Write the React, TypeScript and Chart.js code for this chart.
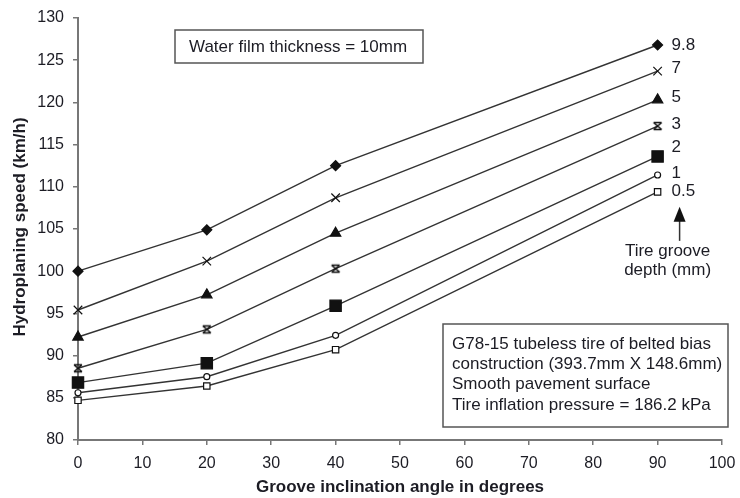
import { useEffect, useRef } from 'react';
import { Chart, registerables } from 'chart.js';

Chart.register(...registerables);

const angles = [0, 20, 40, 90];
const depthLabels = ['9.8', '7', '5', '3', '2', '1', '0.5'];
const speed98 = [100.0, 104.9, 112.5, 126.8];
const speed7 = [95.4, 101.2, 108.7, 123.7];
const speed5 = [92.2, 97.2, 104.5, 120.3];
const speed3 = [88.5, 93.1, 100.3, 117.2];
const speed2 = [86.8, 89.1, 95.9, 113.6];
const speed1 = [85.6, 87.5, 92.4, 111.4];
const speed05 = [84.7, 86.4, 90.7, 109.4];
const xTickValues = [0, 10, 20, 30, 40, 50, 60, 70, 80, 90, 100];
const yTickValues = [80, 85, 90, 95, 100, 105, 110, 115, 120, 125, 130];

const xTitle = 'Groove inclination angle in degrees';
const yTitle = 'Hydroplaning speed (km/h)';
const topNote = 'Water film thickness = 10mm';
const boxNotes = [
  'G78-15 tubeless tire of belted bias',
  'construction (393.7mm X 148.6mm)',
  'Smooth pavement surface',
  'Tire inflation pressure = 186.2 kPa',
];
const arrowNotes = ['Tire groove', 'depth (mm)'];

const FONT = '"Liberation Sans", Arial, sans-serif';
const TEXT = '#1c1c24';

function hourglassMarker(): HTMLCanvasElement {
  const c = document.createElement('canvas');
  c.width = 12;
  c.height = 12;
  const g = c.getContext('2d')!;
  g.strokeStyle = '#111';
  g.lineWidth = 1.6;
  g.beginPath();
  g.moveTo(2, 2.5); g.lineTo(10, 9.5);
  g.moveTo(10, 2.5); g.lineTo(2, 9.5);
  g.moveTo(2, 2.5); g.lineTo(10, 2.5);
  g.moveTo(2, 9.5); g.lineTo(10, 9.5);
  g.stroke();
  return c;
}

export default function App() {
  const ref = useRef<HTMLCanvasElement | null>(null);

  useEffect(() => {
    document.body.style.margin = '0';
    const canvas = ref.current!;
    const series = [speed98, speed7, speed5, speed3, speed2, speed1, speed05];
    const styles: any[] = [
      { pointStyle: 'rectRot', pointRadius: 5, fill: '#111' },
      { pointStyle: 'crossRot', pointRadius: 6, fill: '#111' },
      { pointStyle: 'triangle', pointRadius: 6, fill: '#111' },
      { pointStyle: hourglassMarker(), pointRadius: 6, fill: '#111' },
      { pointStyle: 'rect', pointRadius: 8, fill: '#111' },
      { pointStyle: 'circle', pointRadius: 3, fill: '#fff' },
      { pointStyle: 'rect', pointRadius: 4.5, fill: '#fff' },
    ];
    const labelDy = [0, -3, -3, -2, -9, -2, -1];

    const annotations = {
      id: 'annotations',
      afterDraw(chart: any) {
        const ctx = chart.ctx as CanvasRenderingContext2D;
        const xs = chart.scales.x;
        const ys = chart.scales.y;
        const area = chart.chartArea;
        ctx.save();
        ctx.fillStyle = TEXT;
        // depth labels
        ctx.font = `17px ${FONT}`;
        ctx.textAlign = 'left';
        ctx.textBaseline = 'middle';
        series.forEach((s, i) => {
          const last = s.length - 1;
          const px = xs.getPixelForValue(angles[last]) + 14;
          const py = ys.getPixelForValue(s[last]) + labelDy[i];
          ctx.fillText(depthLabels[i], px, py);
        });
        // arrow
        const ax = xs.getPixelForValue(angles[angles.length - 1]) + 22;
        const tipY = ys.getPixelForValue(speed05[speed05.length - 1]) + 15;
        ctx.strokeStyle = '#333';
        ctx.lineWidth = 1.5;
        ctx.beginPath();
        ctx.moveTo(ax, tipY + 10);
        ctx.lineTo(ax, tipY + 34);
        ctx.stroke();
        ctx.fillStyle = '#111';
        ctx.beginPath();
        ctx.moveTo(ax, tipY);
        ctx.lineTo(ax - 6, tipY + 15);
        ctx.lineTo(ax + 6, tipY + 15);
        ctx.closePath();
        ctx.fill();
        ctx.fillStyle = TEXT;
        ctx.font = `17px ${FONT}`;
        ctx.textAlign = 'center';
        ctx.fillText(arrowNotes[0], ax - 12, tipY + 44);
        ctx.fillText(arrowNotes[1], ax - 12, tipY + 63);

        // top note box
        ctx.strokeStyle = '#555';
        ctx.lineWidth = 1.5;
        const b1x = area.left + 97, b1y = area.top + 12;
        ctx.strokeRect(b1x, b1y, 248, 33);
        ctx.textAlign = 'left';
        ctx.fillText(topNote, b1x + 14, b1y + 17);

        // bottom-right note box
        const b2x = area.left + 365, b2y = area.top + 306;
        ctx.strokeRect(b2x, b2y, 285, 103);
        boxNotes.forEach((t, i) => {
          ctx.fillText(t, b2x + 9, b2y + 20 + i * 20.4);
        });

        // axis titles
        ctx.font = `bold 17px ${FONT}`;
        ctx.textAlign = 'center';
        ctx.fillText(xTitle, (area.left + area.right) / 2, 487);
        ctx.translate(20, (area.top + area.bottom) / 2 - 2);
        ctx.rotate(-Math.PI / 2);
        ctx.fillText(yTitle, 0, 0);
        ctx.restore();
      },
    };

    const chart = new Chart(canvas, {
      type: 'line',
      data: {
        datasets: series.map((s, i) => ({
          label: depthLabels[i],
          data: s.map((v, j) => ({ x: angles[j], y: v })),
          borderColor: '#333',
          borderWidth: 1.4,
          pointStyle: styles[i].pointStyle,
          pointRadius: styles[i].pointRadius,
          pointBackgroundColor: styles[i].fill,
          pointBorderColor: '#111',
          pointBorderWidth: 1.2,
          tension: 0,
          clip: false as any,
        })),
      },
      options: {
        responsive: false,
        animation: false,
        devicePixelRatio: 1,
        layout: { padding: { left: 0, top: 18, right: 18, bottom: 0 } },
        plugins: { legend: { display: false }, tooltip: { enabled: false } },
        scales: {
          x: {
            type: 'linear',
            min: 0,
            max: 100,
            afterFit: (s: any) => { s.height = 58; s.paddingLeft = 0; s.paddingRight = 0; },
            afterBuildTicks: (s: any) => { s.ticks = xTickValues.map((v) => ({ value: v })); },
            ticks: { color: TEXT, font: { family: FONT, size: 16 }, padding: 9, maxRotation: 0 },
            grid: { drawOnChartArea: false, drawTicks: true, tickLength: 5, color: '#777', lineWidth: 1.5 },
            border: { color: '#777', width: 2 },
          },
          y: {
            type: 'linear',
            min: 80,
            max: 130,
            afterFit: (s: any) => { s.width = 78; s.paddingTop = 0; s.paddingBottom = 0; },
            afterBuildTicks: (s: any) => { s.ticks = yTickValues.map((v) => ({ value: v })); },
            ticks: { color: TEXT, font: { family: FONT, size: 16 }, padding: 9 },
            grid: { drawOnChartArea: false, drawTicks: true, tickLength: 5, color: '#777', lineWidth: 1.5 },
            border: { color: '#777', width: 2 },
          },
        },
      },
      plugins: [annotations],
    });
    return () => chart.destroy();
  }, []);

  return <canvas ref={ref} width={740} height={498} style={{ display: 'block', width: 740, height: 498 }} />;
}
